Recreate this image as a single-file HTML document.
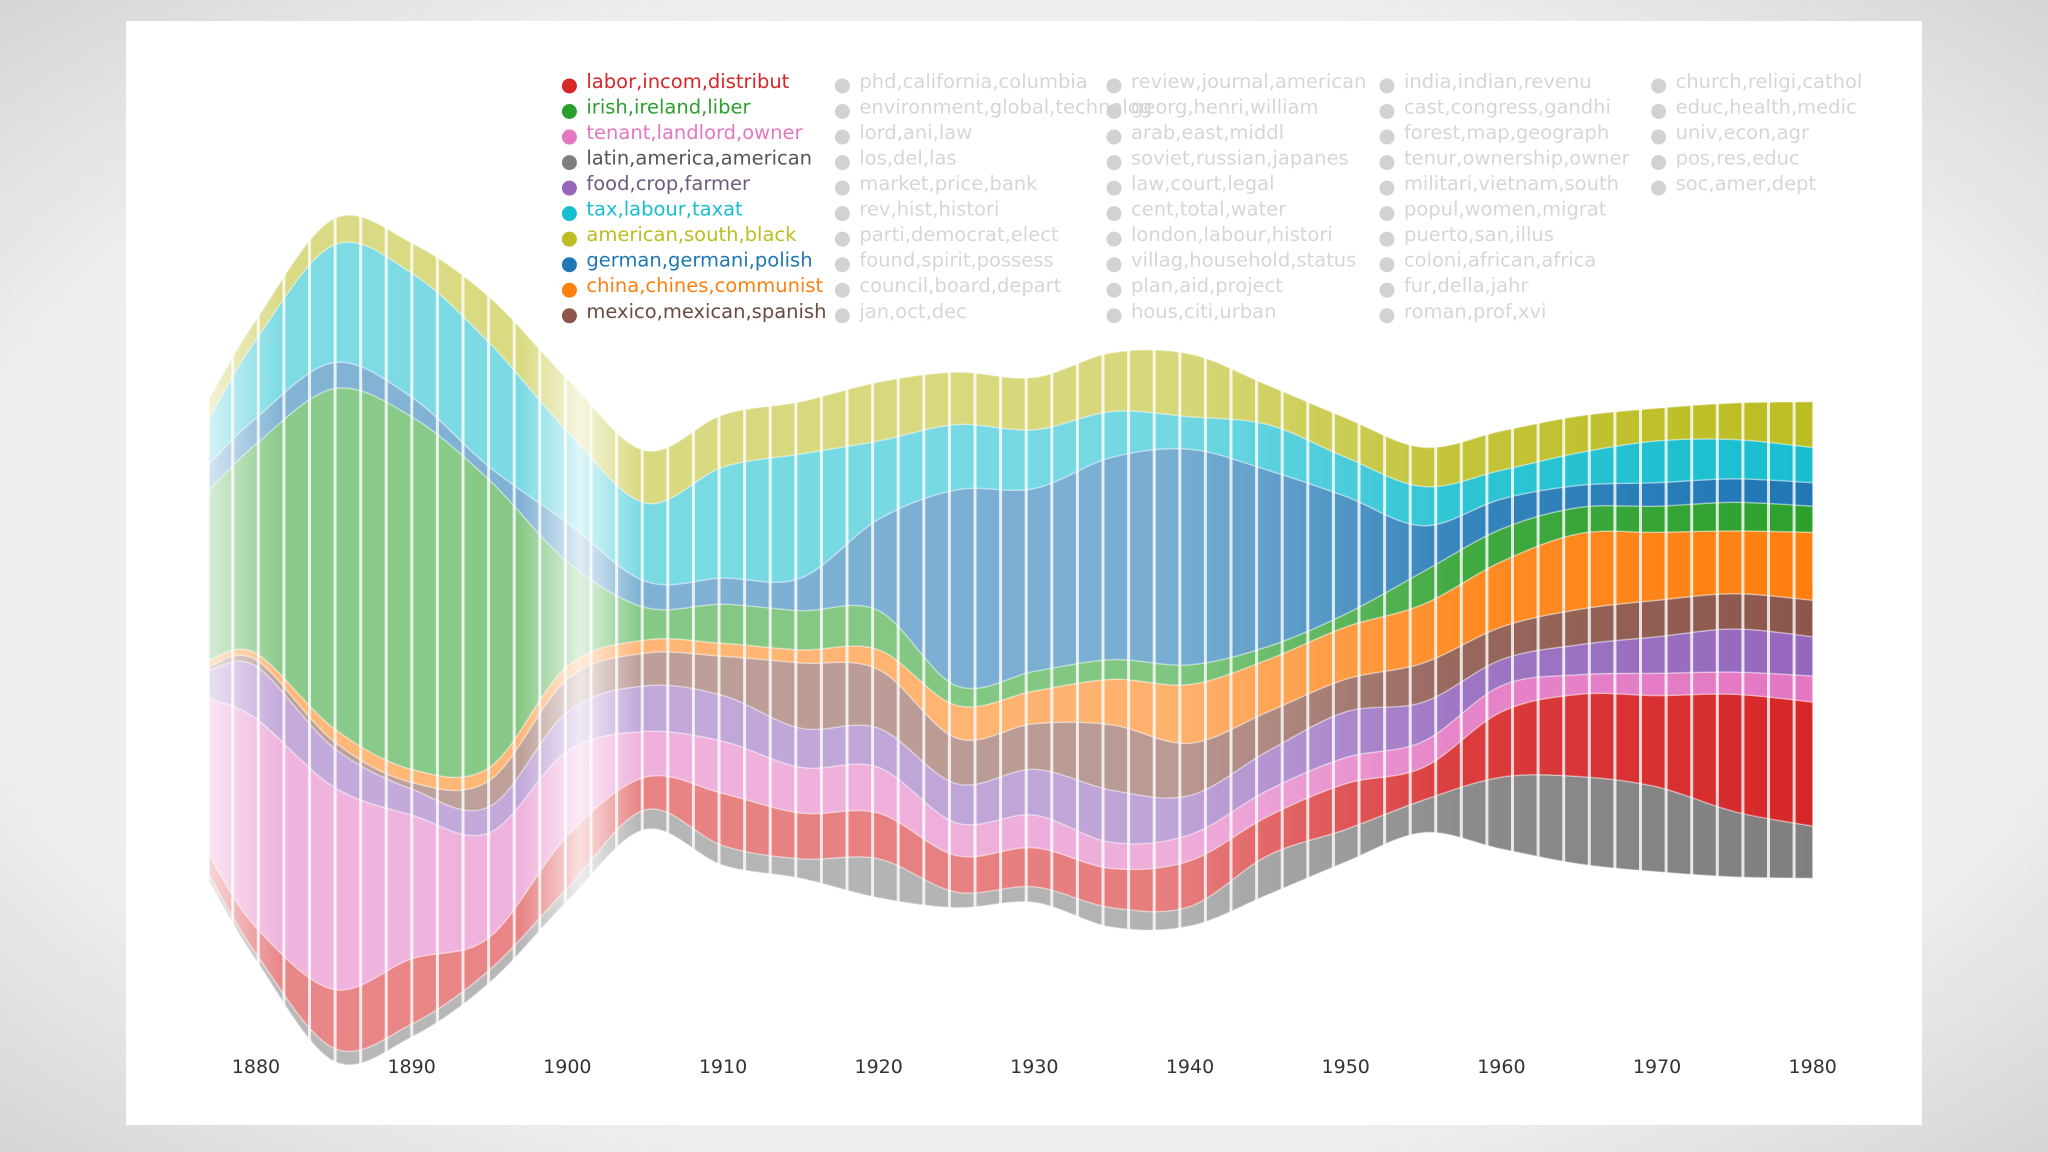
<!DOCTYPE html>
<html><head><meta charset="utf-8"><style>
html,body{margin:0;padding:0;width:2048px;height:1152px;overflow:hidden;background:#e6e6e6}
svg{display:block}
</style></head><body>
<svg id="chart" width="2048" height="1152" viewBox="0 0 2048 1152" xmlns="http://www.w3.org/2000/svg" font-family="'DejaVu Sans','Liberation Sans',sans-serif">
<defs>
<radialGradient id="bgGrad" cx="50%" cy="50%" r="75%">
<stop offset="0%" stop-color="#f7f7f7"/><stop offset="70%" stop-color="#ededed"/><stop offset="100%" stop-color="#cfcfcf"/>
</radialGradient>
<linearGradient id="fadeLeft" x1="0" x2="1" y1="0" y2="0">
<stop offset="0" stop-color="#fff" stop-opacity="1"/><stop offset="1" stop-color="#fff" stop-opacity="0"/>
</linearGradient>
<linearGradient id="fadeMid" x1="0" x2="1" y1="0" y2="0">
<stop offset="0" stop-color="#fff" stop-opacity="0"/><stop offset="0.5" stop-color="#fff" stop-opacity="0.75"/><stop offset="1" stop-color="#fff" stop-opacity="0"/>
</linearGradient>
</defs>
<rect x="0" y="0" width="2048" height="1152" fill="url(#bgGrad)"/>
<rect x="126" y="21" width="1796" height="1104" fill="#ffffff"/>
<g id="layers"></g>
<g id="stripes"></g>
<rect x="170" y="200" width="110" height="900" fill="url(#fadeLeft)"/>
<rect x="520" y="300" width="120" height="700" fill="url(#fadeMid)"/>
<g id="xaxis"></g>
<g id="legend"></g>
</svg>
<script>
const years = [1877,1880,1885,1890,1895,1900,1905,1910,1915,1920,1925,1930,1935,1940,1945,1950,1955,1960,1965,1970,1975,1980];
// thickness per layer (display units), bottom to top
const grayVals   = [5,5,10,10,10,10,15,15,15,30,12,12,15,15,30,25,25,55,67,65,50,40];
const redVals    = [15,20,45,50,25,40,25,40,35,35,28,30,30,35,30,35,25,50,63,70,90,95];
const pinkVals   = [120,160,155,110,80,65,35,40,35,35,25,25,20,20,20,20,20,20,15,17,17,20];
const purpleVals = [22,40,30,20,20,30,35,35,30,30,30,35,40,30,30,35,30,20,23,28,33,30];
const brownVals  = [3,5,5,5,20,25,25,30,50,45,35,35,50,40,30,25,30,25,27,28,27,28];
const orangeVals = [5,5,10,10,10,10,10,10,10,15,25,25,35,45,40,40,45,50,58,52,48,52];
const greenVals  = [130,160,260,270,220,80,25,30,30,30,15,15,15,15,10,10,25,25,20,20,22,20];
const blueVals   = [20,20,20,15,10,30,20,20,25,70,150,140,155,165,135,90,35,23,17,18,18,18];
const cyanVals   = [35,60,90,95,95,70,60,85,95,60,50,45,35,25,35,30,30,22,25,32,30,27];
const oliveVals  = [15,15,20,23,35,40,40,40,40,45,40,40,45,48,30,30,30,30,28,25,28,35];
const series = [grayVals,redVals,pinkVals,purpleVals,brownVals,orangeVals,greenVals,blueVals,cyanVals,oliveVals];
const seriesNames = ['latin-america','labor-incom','tenant-landlord','food-crop','mexico-mexican','china-chines','irish-ireland','german-germani','tax-labour','american-south'];
const seriesColors = ['#7f7f7f','#d62728','#e377c2','#9467bd','#8c564b','#ff7f0e','#2ca02c','#1f77b4','#17becf','#bcbd22'];
const tickYears = [1880,1890,1900,1910,1920,1930,1940,1950,1960,1970,1980];
const legendMain = ['labor,incom,distribut','irish,ireland,liber','tenant,landlord,owner','latin,america,american','food,crop,farmer','tax,labour,taxat','american,south,black','german,germani,polish','china,chines,communist','mexico,mexican,spanish'];
const legendMainColors = ['#d62728','#2ca02c','#e377c2','#555555','#6d5a80','#17becf','#bcbd22','#1f77b4','#ff7f0e','#6b4a40'];
const legendDotColors = ['#d62728','#2ca02c','#e377c2','#7f7f7f','#9467bd','#17becf','#bcbd22','#1f77b4','#ff7f0e','#8c564b'];
const legendCol2 = ['phd,california,columbia','environment,global,technolog','lord,ani,law','los,del,las','market,price,bank','rev,hist,histori','parti,democrat,elect','found,spirit,possess','council,board,depart','jan,oct,dec'];
const legendCol3 = ['review,journal,american','georg,henri,william','arab,east,middl','soviet,russian,japanes','law,court,legal','cent,total,water','london,labour,histori','villag,household,status','plan,aid,project','hous,citi,urban'];
const legendCol4 = ['india,indian,revenu','cast,congress,gandhi','forest,map,geograph','tenur,ownership,owner','militari,vietnam,south','popul,women,migrat','puerto,san,illus','coloni,african,africa','fur,della,jahr','roman,prof,xvi'];
const legendCol5 = ['church,religi,cathol','educ,health,medic','univ,econ,agr','pos,res,educ','soc,amer,dept'];

const S = 1.306;
const NS = 'http://www.w3.org/2000/svg';
function xScale(yr){ return (196 + (yr-1880)*11.92)*S; }
function hScale(v){ return v*S; }
const centerY = 640;

function smoothPath(pts){
  let d = '';
  for(let i=0;i<pts.length-1;i++){
    const p0=pts[Math.max(i-1,0)],p1=pts[i],p2=pts[i+1],p3=pts[Math.min(i+2,pts.length-1)];
    const c1=[p1[0]+(p2[0]-p0[0])/6,p1[1]+(p2[1]-p0[1])/6];
    const c2=[p2[0]-(p3[0]-p1[0])/6,p2[1]-(p3[1]-p1[1])/6];
    d += ` C${c1[0].toFixed(1)},${c1[1].toFixed(1)} ${c2[0].toFixed(1)},${c2[1].toFixed(1)} ${p2[0].toFixed(1)},${p2[1].toFixed(1)}`;
  }
  return d;
}

const layersG = document.getElementById('layers');
const defs = document.querySelector('defs');
const totals = years.map((y,i)=>series.reduce((s,a)=>s+a[i],0));
let lower = years.map((y,i)=>centerY + hScale(totals[i])/2);
series.forEach((vals,si)=>{
  const upper = lower.map((b,i)=>b - hScale(vals[i]));
  const top = years.map((y,i)=>[xScale(y),upper[i]]);
  const bot = years.map((y,i)=>[xScale(y),lower[i]]).reverse();
  let d = `M${top[0][0]},${top[0][1]}` + smoothPath(top) + ` L${bot[0][0]},${bot[0][1]}` + smoothPath(bot) + ' Z';
  const gid = 'lg'+si;
  const lg = document.createElementNS(NS,'linearGradient');
  lg.setAttribute('id',gid);lg.setAttribute('gradientUnits','userSpaceOnUse');
  lg.setAttribute('x1',xScale(1877));lg.setAttribute('x2',xScale(1980));lg.setAttribute('y1',0);lg.setAttribute('y2',0);
  [[0,0.55],[0.6,0.6],[0.78,0.9],[1,1]].forEach(([o,a])=>{
    const st=document.createElementNS(NS,'stop');st.setAttribute('offset',o);st.setAttribute('stop-color',seriesColors[si]);st.setAttribute('stop-opacity',a);lg.appendChild(st);
  });
  defs.appendChild(lg);
  const p = document.createElementNS(NS,'path');
  p.setAttribute('d',d);p.setAttribute('fill','url(#'+gid+')');
  p.setAttribute('stroke','#ffffff');p.setAttribute('stroke-opacity','0.35');p.setAttribute('stroke-width','1.5');
  
  
  layersG.appendChild(p);
  lower = upper;
});

// vertical white stripes
const stripesG = document.getElementById('stripes');
for(let dx=177; dx<=1385; dx+=19.6){
  const r=document.createElementNS(NS,'rect');
  r.setAttribute('x',(dx*S).toFixed(1));r.setAttribute('y',200);r.setAttribute('width',3);r.setAttribute('height',880);
  r.setAttribute('fill','#ffffff');r.setAttribute('opacity','0.8');
  
  
  stripesG.appendChild(r);
}

// x axis labels
const xa = document.getElementById('xaxis');
tickYears.forEach(t=>{
  const tx=document.createElementNS(NS,'text');
  tx.setAttribute('x',xScale(t));tx.setAttribute('y',1073);tx.setAttribute('text-anchor','middle');
  tx.setAttribute('font-size','19');tx.setAttribute('fill','#333');tx.textContent=t;
  
  
  xa.appendChild(tx);
});

// legend
const lgG = document.getElementById('legend');
function addEntry(colX, row, label, dotColor, textColor){
  const y = (62 + row*19.55)*S;
  const c=document.createElementNS(NS,'circle');
  c.setAttribute('cx',colX*S);c.setAttribute('cy',y+5);c.setAttribute('r',7.5);c.setAttribute('fill',dotColor);
  
  
  lgG.appendChild(c);
  const t=document.createElementNS(NS,'text');
  t.setAttribute('x',(colX+13)*S);t.setAttribute('y',y+7);t.setAttribute('font-size','19.5');t.setAttribute('fill',textColor);
  t.textContent=label;
  
  
  lgG.appendChild(t);
}
legendMain.forEach((l,i)=>addEntry(436,i,l,legendDotColors[i],legendMainColors[i]));
legendCol2.forEach((l,i)=>addEntry(645,i,l,'#d2d2d2','#d6d6d6'));
legendCol3.forEach((l,i)=>addEntry(853,i,l,'#d2d2d2','#d6d6d6'));
legendCol4.forEach((l,i)=>addEntry(1062,i,l,'#d2d2d2','#d6d6d6'));
legendCol5.forEach((l,i)=>addEntry(1270,i,l,'#d2d2d2','#d6d6d6'));
</script>
</body></html>
